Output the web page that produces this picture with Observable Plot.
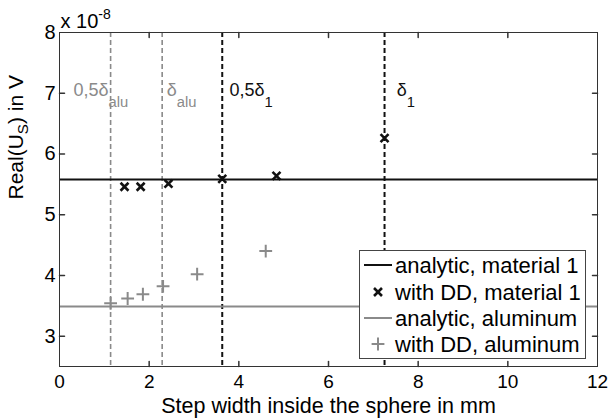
<!DOCTYPE html>
<html>
<head>
<meta charset="utf-8">
<script src="https://cdn.jsdelivr.net/npm/d3@7"></script>
<script src="https://cdn.jsdelivr.net/npm/@observablehq/plot@0.6"></script>
<style>
  html, body { margin: 0; padding: 0; background: #fff; }
</style>
</head>
<body>
<div id="chart"></div>
<script>
// ---- data (y values in units of 1e-8 V) ----
const xDomain = [0, 12];
const yDomain = [2.5, 8];
const xTicks = [0, 2, 4, 6, 8, 10, 12];
const yTicks = [3, 4, 5, 6, 7, 8];
const xInnerTicks = [2, 4, 6, 8, 10];
const yInnerTicks = [3, 4, 5, 6, 7];

const mat1Analytic = 5.58;
const aluAnalytic = 3.49;

const mat1StepX = [1.45, 1.81, 2.43, 3.63, 4.84, 7.25];
const mat1DD    = [5.46, 5.46, 5.51, 5.59, 5.64, 6.26];
const aluStepX  = [1.14, 1.52, 1.86, 2.31, 3.07, 4.60];
const aluDD     = [3.54, 3.62, 3.69, 3.82, 4.02, 4.40];

const aluDepthLines = [1.14, 2.29];    // 0.5 δ_alu, δ_alu
const mat1DepthLines = [3.63, 7.25];   // 0.5 δ_1, δ_1

const aluLabels = ["0,5δ_{alu}", "δ_{alu}"];
const aluLabelX = [0.31, 2.39];
const mat1Labels = ["0,5δ_{1}", "δ_{1}"];
const mat1LabelX = [3.79, 7.52];
const depthLabelY = 6.96;

const legendLabels = ["analytic, material 1", "with DD, material 1", "analytic, aluminum", "with DD, aluminum"];

const xLabel = "Step width inside the sphere in mm";
const yLabel = "Real(U_{S}) in V";
const exponentLabel = "x 10^{-8}";

// ---- styling ----
const BLACK = "#111";
const GRAY = "#8a8a8a";
const AXIS = "#333";
const FONT = "'Liberation Sans', Arial, sans-serif";

const mat1Points = mat1StepX.map((x, i) => ({x, y: mat1DD[i]}));
const aluPoints = aluStepX.map((x, i) => ({x, y: aluDD[i]}));

const tickShape = { draw(ctx, l) { ctx.moveTo(0, 0); ctx.lineTo(0, -l); } };

const chart = Plot.plot({
  width: 610,
  height: 419,
  marginLeft: 59,
  marginRight: 13,
  marginTop: 32,
  marginBottom: 53,
  style: { fontFamily: FONT, background: "#fff", color: "#000" },
  x: { domain: xDomain },
  y: { domain: yDomain },
  marks: [
    Plot.ruleX(aluDepthLines, { stroke: GRAY, strokeWidth: 1.6, strokeDasharray: "5,3" }),
    Plot.ruleX(mat1DepthLines, { stroke: BLACK, strokeWidth: 2, strokeDasharray: "5,3" }),
    Plot.ruleY([mat1Analytic], { stroke: BLACK, strokeWidth: 2 }),
    Plot.ruleY([aluAnalytic], { stroke: GRAY, strokeWidth: 2 }),
    Plot.dot(mat1Points, { x: "x", y: "y", symbol: "times", r: 3.7, stroke: BLACK, strokeWidth: 2.6 }),
    Plot.dot(aluPoints, { x: "x", y: "y", symbol: "plus", r: 4.2, stroke: GRAY, strokeWidth: 2 }),
    Plot.text(aluLabels, { x: (d, i) => aluLabelX[i], y: depthLabelY, text: d => d, fill: GRAY, fontSize: 18, textAnchor: "start", lineAnchor: "bottom" }),
    Plot.text(mat1Labels, { x: (d, i) => mat1LabelX[i], y: depthLabelY, text: d => d, fill: BLACK, fontSize: 18, textAnchor: "start", lineAnchor: "bottom" }),
    Plot.frame({ stroke: AXIS, strokeWidth: 1 }),
    // inward ticks on all four sides
    Plot.vector(xInnerTicks, { x: d => d, y: () => yDomain[0], length: 5, rotate: 0, anchor: "start", shape: tickShape, stroke: AXIS }),
    Plot.vector(xInnerTicks, { x: d => d, y: () => yDomain[1], length: 5, rotate: 180, anchor: "start", shape: tickShape, stroke: AXIS }),
    Plot.vector(yInnerTicks, { y: d => d, x: () => xDomain[0], length: 5, rotate: 90, anchor: "start", shape: tickShape, stroke: AXIS }),
    Plot.vector(yInnerTicks, { y: d => d, x: () => xDomain[1], length: 5, rotate: -90, anchor: "start", shape: tickShape, stroke: AXIS }),
    Plot.axisX(xTicks, { tickSize: 0, tickPadding: 8, fontSize: 19, label: null, tickFormat: d => String(d) }),
    Plot.axisY(yTicks, { tickSize: 0, tickPadding: 4, fontSize: 20, label: null, tickFormat: d => String(d) }),
    Plot.text([xLabel], { frameAnchor: "bottom", dy: 46, text: d => d, fontSize: 21.5, lineAnchor: "bottom" }),
    Plot.text([yLabel], { frameAnchor: "left", dx: -43, rotate: -90, text: d => d, fontSize: 21, lineAnchor: "middle" }),
    Plot.text([exponentLabel], { frameAnchor: "top-left", dx: 1, dy: -5, text: d => d, fontSize: 20, textAnchor: "start", lineAnchor: "bottom" })
  ]
});

// ---- rich text: _{sub} and ^{sup} ----
function richText(el, shiftPx, scale) {
  const s = el.textContent;
  if (!/[_^]\{/.test(s)) return;
  const parts = s.split(/([_^]\{[^}]*\})/).filter(p => p.length);
  while (el.firstChild) el.removeChild(el.firstChild);
  let offset = 0;
  for (const p of parts) {
    const t = document.createElementNS("http://www.w3.org/2000/svg", "tspan");
    let shift = 0, txt = p;
    if (p.startsWith("_{")) { shift = shiftPx; txt = p.slice(2, -1); t.setAttribute("font-size", scale + "em"); }
    else if (p.startsWith("^{")) { shift = -shiftPx; txt = p.slice(2, -1); t.setAttribute("font-size", scale + "em"); }
    const dy = shift - offset;
    if (dy !== 0) t.setAttribute("dy", dy + "px");
    offset = shift;
    t.textContent = txt;
    el.appendChild(t);
  }
}
d3.select(chart).selectAll("text").each(function () {
  const s = this.textContent;
  if (s.startsWith("Real")) richText(this, 5, 0.72);
  else if (s.startsWith("x 10")) richText(this, 9, 0.7);
  else richText(this, 11, 0.82);
});

// ---- legend (inside the axes, lower right) ----
const svg = d3.select(chart);
const lg = svg.append("g")
  .attr("font-family", FONT)
  .attr("font-size", 22)
  .attr("text-anchor", "start");
lg.append("rect").attr("x", 359.5).attr("y", 250.5).attr("width", 226).attr("height", 108)
  .attr("fill", "#fff").attr("stroke", "#444").attr("stroke-width", 1);
const rowY = [265, 292, 318, 344];
const legendColor = [BLACK, BLACK, GRAY, GRAY];
legendLabels.forEach((label, i) => {
  const cy = rowY[i];
  if (i === 0 || i === 2) {
    lg.append("line").attr("x1", 364).attr("x2", 392).attr("y1", cy).attr("y2", cy)
      .attr("stroke", legendColor[i]).attr("stroke-width", 2);
  } else {
    const sym = i === 1 ? d3.symbol(d3.symbolTimes, Math.PI * 3.7 * 3.7) : d3.symbol(d3.symbolPlus, Math.PI * 4.2 * 4.2);
    lg.append("path").attr("d", sym()).attr("transform", `translate(378,${cy})`)
      .attr("fill", "none").attr("stroke", legendColor[i]).attr("stroke-width", i === 1 ? 2.6 : 2);
  }
  lg.append("text").attr("x", 395).attr("y", cy + 8).attr("fill", "#000").attr("text-anchor", "start").text(label);
});

document.getElementById("chart").appendChild(chart);
</script>
</body>
</html>
